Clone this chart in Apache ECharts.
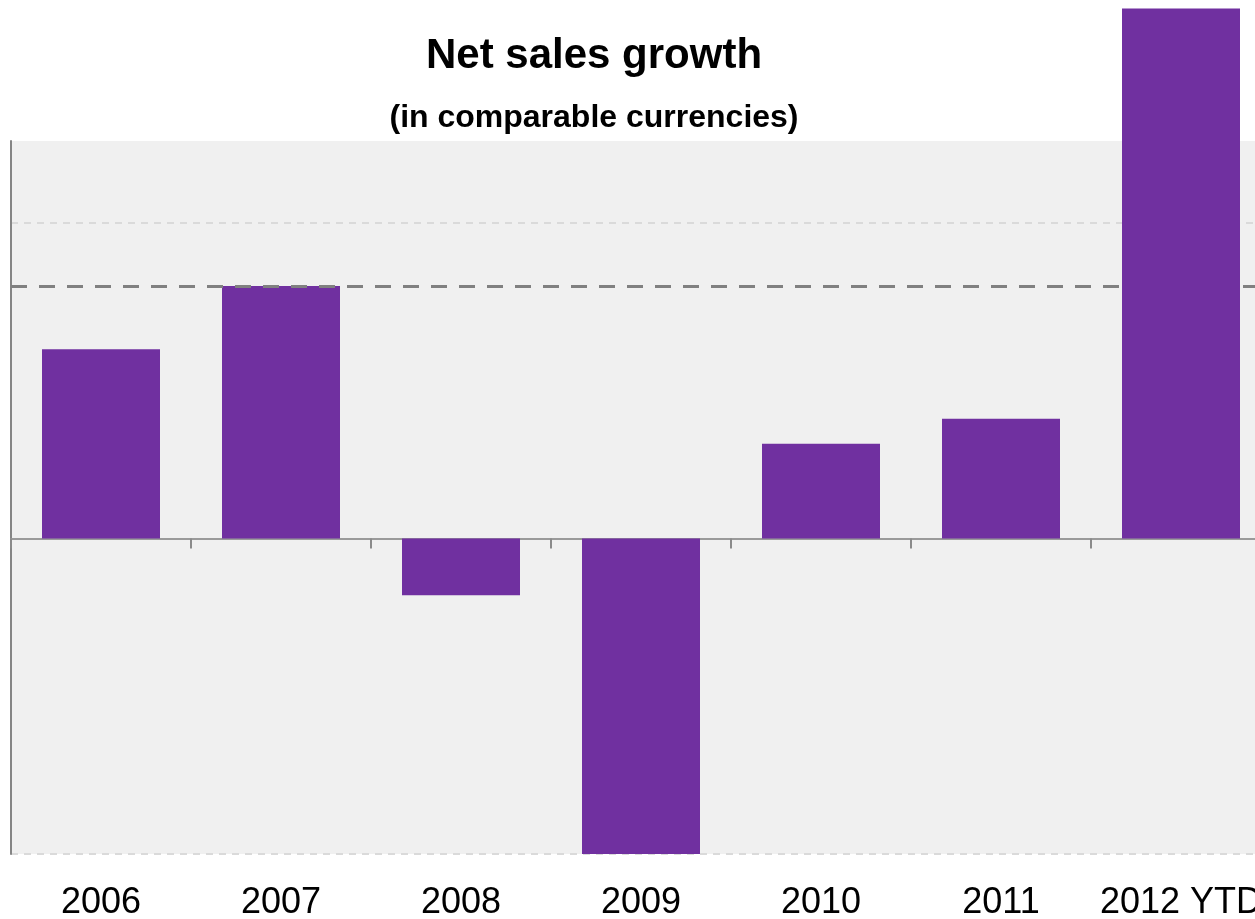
<!DOCTYPE html>
<html>
<head>
<meta charset="utf-8">
<title>Net sales growth</title>
<script src="https://cdn.jsdelivr.net/npm/echarts@6/dist/echarts.min.js"></script>
<style>
  html, body { margin: 0; padding: 0; background: #ffffff; }
  #chart { width: 1255px; height: 919px; }
</style>
</head>
<body>
<div id="chart"></div>
<script>
// Years on the category axis
const categories = ['2006', '2007', '2008', '2009', '2010', '2011', '2012 YTD'];
// Net sales growth in comparable currencies, %
const growth = [6.0, 8.0, -1.8, -10.0, 3.0, 3.8, 16.8];
// Target growth level shown as a dashed reference line, %
const targetGrowth = 8.0;

const titleText = 'Net sales growth';
const subtitleText = '(in comparable currencies)';

const barColor = '#7030A0';
const lastIndex = categories.length - 1;

// Historical years and the latest year-to-date bar are kept in separate
// series so the YTD bar can sit above the target line.
const historyValues = growth.map((v, i) => (i === lastIndex ? '-' : v));
const ytdValues = growth.map((v, i) => (i === lastIndex ? v : '-'));

const chart = echarts.init(document.getElementById('chart'), null, { renderer: 'canvas' });

chart.setOption({
  animation: false,
  backgroundColor: '#ffffff',
  textStyle: { fontFamily: 'Liberation Sans, Arial, sans-serif' },
  graphic: [
    {
      type: 'text',
      x: 594,
      y: 56,
      style: {
        text: titleText,
        font: 'bold 42px "Liberation Sans", Arial, sans-serif',
        fill: '#000000',
        align: 'center',
        verticalAlign: 'middle'
      }
    },
    {
      type: 'text',
      x: 594,
      y: 118,
      style: {
        text: subtitleText,
        font: 'bold 32px "Liberation Sans", Arial, sans-serif',
        fill: '#000000',
        align: 'center',
        verticalAlign: 'middle'
      }
    }
  ],
  grid: {
    show: true,
    left: 11,
    width: 1260,
    top: 141,
    bottom: 65,
    backgroundColor: '#f0f0f0',
    borderWidth: 0,
    containLabel: false,
    outerBoundsMode: 'none'
  },
  xAxis: [
    {
      // zero line with category boundary ticks
      type: 'category',
      data: categories,
      axisLine: { show: true, onZero: true, lineStyle: { color: '#9a9a9a', width: 2 } },
      axisTick: { show: true, length: 10, alignWithLabel: false, lineStyle: { color: '#8a8a8a', width: 2 } },
      axisLabel: { show: false },
      splitLine: { show: false }
    },
    {
      // year labels along the bottom edge
      type: 'category',
      data: categories,
      position: 'bottom',
      axisLine: { show: false, onZero: false },
      axisTick: { show: false },
      axisLabel: {
        show: true,
        margin: 31,
        fontSize: 36,
        color: '#000000',
        fontFamily: 'Liberation Sans, Arial, sans-serif',
        interval: 0,
        hideOverlap: false
      },
      splitLine: { show: false }
    }
  ],
  yAxis: {
    type: 'value',
    min: -10,
    max: 12.6,
    interval: 10,
    axisLine: { show: true, lineStyle: { color: '#858585', width: 2 } },
    axisTick: { show: false },
    axisLabel: { show: false },
    splitLine: {
      show: true,
      showMinLine: true,
      showMaxLine: false,
      lineStyle: { color: '#dadada', width: 2, type: [7, 6] }
    }
  },
  series: [
    {
      name: 'Net sales growth',
      type: 'bar',
      xAxisIndex: 0,
      data: historyValues,
      barWidth: 118,
      barGap: '-100%',
      z: 2,
      itemStyle: { color: barColor },
      markLine: {
        silent: true,
        symbol: ['none', 'none'],
        z: 5,
        label: { show: false },
        lineStyle: { color: '#808080', width: 3, type: [16, 12] },
        data: [{ yAxis: targetGrowth }]
      }
    },
    {
      name: 'Net sales growth YTD',
      type: 'bar',
      xAxisIndex: 0,
      data: ytdValues,
      barWidth: 118,
      barGap: '-100%',
      clip: false,
      z: 10,
      itemStyle: { color: barColor }
    }
  ]
});
</script>
</body>
</html>
